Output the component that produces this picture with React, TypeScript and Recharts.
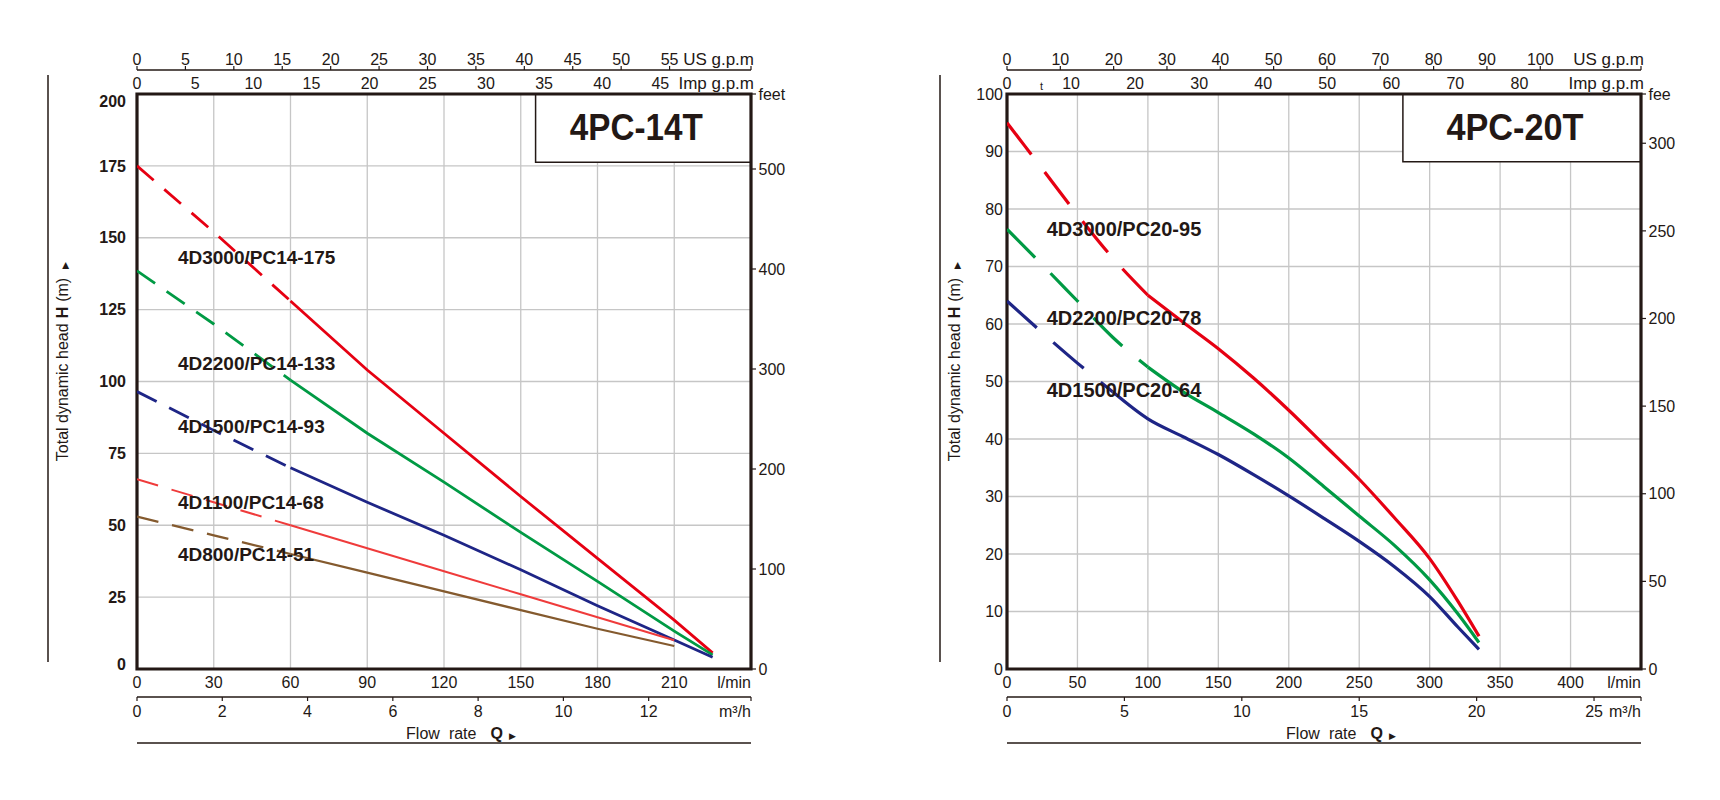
import React from "react";
import {
  LineChart,
  Line,
  XAxis,
  YAxis,
  CartesianGrid,
  ReferenceArea,
  ReferenceDot,
} from "recharts";

const INK = "#231815";
const GRID = "#c6c6c6";
const FONT = "'Liberation Sans', Arial, Helvetica, sans-serif";
const RED = "#e60012";
const GREEN = "#009a44";
const BLUE = "#1e2586";
const LIGHT_RED = "#ef3b3b";
const BROWN = "#845a2e";

// 4PC-14T : flow in l/min, head in m
const flow14 = [0, 30, 60, 90, 120, 150, 180, 210, 225];
const flow14Short = [0, 30, 60, 90, 120, 150, 180, 210];
const head14_175 = [175, 152, 128, 104, 82, 60, 38.5, 17, 5.6];
const head14_133 = [138.5, 120, 100.5, 82, 65, 47.5, 30.5, 13.2, 4.9];
const head14_93 = [96.5, 83, 70, 58, 46.5, 34.5, 22, 10.1, 4.1];
const head14_68 = [66, 58, 50, 42, 34, 26, 18, 10];
const head14_51 = [53, 46.5, 40, 33.5, 27, 20.5, 14, 8];
const models14 = [
  "4D3000/PC14-175",
  "4D2200/PC14-133",
  "4D1500/PC14-93",
  "4D1100/PC14-68",
  "4D800/PC14-51",
];
const lminTicks14 = [0, 30, 60, 90, 120, 150, 180, 210];
const m3hTicks14 = [0, 2, 4, 6, 8, 10, 12];
const usTicks14 = [0, 5, 10, 15, 20, 25, 30, 35, 40, 45, 50, 55];
const impTicks14 = [0, 5, 10, 15, 20, 25, 30, 35, 40, 45];
const headTicks14 = [0, 25, 50, 75, 100, 125, 150, 175, 200];
const feetTicks14 = [0, 100, 200, 300, 400, 500];

// 4PC-20T
const flow20 = [0, 25, 50, 75, 100, 125, 150, 175, 200, 225, 250, 275, 300, 320, 335];
const head20_95 = [95, 87, 79, 71.5, 65, 60.3, 55.7, 50.6, 45, 39, 33, 26.3, 19.2, 11.8, 5.7];
const head20_78 = [76.5, 70.3, 64, 57.7, 52.5, 48.2, 44.6, 40.9, 36.7, 31.7, 26.6, 21.5, 15.5, 9.6, 4.6];
const head20_64 = [64, 58.5, 53.2, 48.2, 43.5, 40.4, 37.3, 33.8, 30.1, 26.2, 22.2, 17.8, 12.6, 7.3, 3.4];
const models20 = ["4D3000/PC20-95", "4D2200/PC20-78", "4D1500/PC20-64"];
const lminTicks20 = [0, 50, 100, 150, 200, 250, 300, 350, 400];
const m3hTicks20 = [0, 5, 10, 15, 20, 25];
const usTicks20 = [0, 10, 20, 30, 40, 50, 60, 70, 80, 90, 100];
const impTicks20 = [0, 10, 20, 30, 40, 50, 60, 70, 80];
const headTicks20 = [0, 10, 20, 30, 40, 50, 60, 70, 80, 90, 100];
const feetTicks20 = [0, 50, 100, 150, 200, 250, 300];

type Pt = { q: number; h: number };
const toPoints = (flow: number[], head: number[]): Pt[] =>
  flow.map((q, i) => ({ q, h: head[i] }));

type Curve = {
  name: string;
  flow: number[];
  head: number[];
  dashTo: number;
  color: string;
  width: number;
  label: [number, number];
};

const curves14: Curve[] = [
  { name: models14[0], flow: flow14, head: head14_175, dashTo: 60, color: RED, width: 2.8, label: [16, 143.4] },
  { name: models14[1], flow: flow14, head: head14_133, dashTo: 60, color: GREEN, width: 2.8, label: [16, 106.3] },
  { name: models14[2], flow: flow14, head: head14_93, dashTo: 60, color: BLUE, width: 2.8, label: [16, 84.3] },
  { name: models14[3], flow: flow14Short, head: head14_68, dashTo: 60, color: LIGHT_RED, width: 2, label: [16, 58.2] },
  { name: models14[4], flow: flow14Short, head: head14_51, dashTo: 60, color: BROWN, width: 2.3, label: [16, 40] },
];

const curves20: Curve[] = [
  { name: models20[0], flow: flow20, head: head20_95, dashTo: 100, color: RED, width: 3.2, label: [28.2, 76.5] },
  { name: models20[1], flow: flow20, head: head20_78, dashTo: 100, color: GREEN, width: 3.2, label: [28.2, 61] },
  { name: models20[2], flow: flow20, head: head20_64, dashTo: 75, color: BLUE, width: 3.2, label: [28.2, 48.5] },
];

const txt = { fontFamily: FONT, fill: INK };

const HeadTitle = ({ viewBox, lineX }: any) => {
  const { x, y, height } = viewBox;
  const lx = x + lineX;
  const cy = y + height / 2 - 20;
  return (
    <g>
      <line x1={lx} x2={lx} y1={y - 19} y2={y + height - 7} stroke={INK} strokeWidth={1.5} />
      <text transform={`translate(${lx + 20}, ${cy}) rotate(-90)`} textAnchor="middle" fontSize={16} {...txt}>
        <tspan>Total dynamic head</tspan>
        <tspan dx={5} fontWeight="bold">H</tspan>
        <tspan dx={5}>(m)</tspan>
        <tspan dx={9} fontSize={9}>▶</tspan>
      </text>
    </g>
  );
};

const FlowTitle = ({ viewBox }: any) => {
  const { x, y, width } = viewBox;
  return (
    <g>
      <text x={x + width / 2 + 17} y={y + 41.5} textAnchor="middle" fontSize={16} {...txt}>
        <tspan>Flow</tspan>
        <tspan dx={9}>rate</tspan>
        <tspan dx={14} fontWeight="bold">Q</tspan>
        <tspan dx={6} fontSize={9}>▶</tspan>
      </text>
      <line x1={x} x2={x + width} y1={y + 46} y2={y + 46} stroke={INK} strokeWidth={1.5} />
    </g>
  );
};

const BoxTitle = ({ viewBox, text, length }: any) => (
  <text
    x={viewBox.x + viewBox.width / 2 - 7}
    y={viewBox.y + 46}
    textAnchor="middle"
    fontSize={36}
    fontWeight="bold"
    textLength={length}
    lengthAdjust="spacingAndGlyphs"
    {...txt}
  >
    {text}
  </text>
);

const ModelLabel = ({ viewBox, text, size }: any) => (
  <text x={viewBox.x} y={viewBox.y + size * 0.36} fontSize={size} fontWeight="bold" {...txt}>
    {text}
  </text>
);

const StrayMark = ({ viewBox }: any) => (
  <text x={viewBox.x + 33} y={viewBox.y + 20} fontSize={11} {...txt}>
    t
  </text>
);

type ChartProps = {
  title: string;
  titleLength: number;
  curves: Curve[];
  curveType: "linear" | "monotone";
  dash: string;
  labelSize: number;
  qMax: number;
  qTicks: number[];
  hMax: number;
  hTicks: number[];
  ftMax: number;
  ftTicks: number[];
  usTicks: number[];
  impTicks: number[];
  m3Ticks: number[];
  box: [number, number];
  yWidth: number;
  lineX: number;
  boldY: boolean;
  marginRight: number;
  feetUnit: string;
  stray?: boolean;
};

function PumpChart(p: ChartProps) {
  const usMax = p.qMax / 3.785;
  const impMax = p.qMax / 4.546;
  const m3Max = (p.qMax * 60) / 1000;
  // chart-level data so that the secondary unit axes get a scale too
  const allPoints = p.curves.flatMap((c) => toPoints(c.flow, c.head));

  const qTick = (t: any) => {
    const last = t.payload.value === p.qMax;
    return (
      <text x={t.x} y={t.y + 18.5} textAnchor={last ? "end" : "middle"} fontSize={16} {...txt}>
        {last ? "l/min" : t.payload.value}
      </text>
    );
  };
  const m3Tick = (t: any) => {
    const last = t.payload.value === m3Max;
    return (
      <text x={t.x} y={t.y + 16} textAnchor={last ? "end" : "middle"} fontSize={16} {...txt}>
        {last ? "m³/h" : t.payload.value}
      </text>
    );
  };
  const topTick = (max: number, unit: string, dy: number) => (t: any) => {
    const last = t.payload.value === max;
    return (
      <text
        x={last ? t.x + 3 : t.x}
        y={t.y + dy}
        textAnchor={last ? "end" : "middle"}
        fontSize={last ? 17 : 16}
        {...txt}
      >
        {last ? unit : t.payload.value}
      </text>
    );
  };
  const hTick = (t: any) => {
    const v = t.payload.value;
    const shift = p.boldY ? (v === p.hMax ? 7 : v === 0 ? -5 : 0) : 0;
    return (
      <text
        x={t.x - (p.boldY ? 11 : 4)}
        y={t.y + 5.7 + shift}
        textAnchor="end"
        fontSize={16}
        fontWeight={p.boldY ? "bold" : "normal"}
        {...txt}
      >
        {v}
      </text>
    );
  };
  const ftTick = (t: any) => {
    const last = t.payload.value === p.ftMax;
    return (
      <text x={t.x + 2.5} y={t.y + 5.7} textAnchor="start" fontSize={16} {...txt}>
        {last ? p.feetUnit : t.payload.value}
      </text>
    );
  };

  const inkLine = { stroke: INK, strokeWidth: 1.5 };
  const inkTick = { stroke: INK, strokeWidth: 1.2 };

  return (
    <LineChart
      width={860}
      height={800}
      data={allPoints}
      margin={{ top: 46, right: p.marginRight, bottom: 43, left: 0 }}
    >
      <CartesianGrid stroke={GRID} strokeWidth={1.3} />
      <XAxis
        type="number"
        dataKey="q"
        domain={[0, p.qMax]}
        allowDataOverflow
        ticks={[...p.qTicks, p.qMax]}
        interval={0}
        height={28}
        axisLine={false}
        tickLine={false}
        tickSize={0}
        tickMargin={0}
        tick={qTick}
      />
      <XAxis
        xAxisId="m3h"
        orientation="bottom"
        type="number"
        dataKey="q"
        domain={[0, m3Max]}
        allowDataOverflow
        ticks={[...p.m3Ticks, m3Max]}
        interval={0}
        height={60}
        axisLine={inkLine}
        tickLine={inkTick}
        tickSize={4}
        tickMargin={0}
        tick={m3Tick}
        label={<FlowTitle />}
      />
      <XAxis
        xAxisId="imp"
        orientation="top"
        type="number"
        dataKey="q"
        domain={[0, impMax]}
        allowDataOverflow
        ticks={[...p.impTicks, impMax]}
        interval={0}
        height={24}
        axisLine={false}
        tickLine={false}
        tickSize={0}
        tickMargin={0}
        tick={topTick(impMax, "Imp g.p.m", -5.4)}
        label={p.stray ? <StrayMark /> : undefined}
      />
      <XAxis
        xAxisId="us"
        orientation="top"
        type="number"
        dataKey="q"
        domain={[0, usMax]}
        allowDataOverflow
        ticks={[...p.usTicks, usMax]}
        interval={0}
        height={24}
        axisLine={inkLine}
        tickLine={inkTick}
        tickSize={4}
        tickMargin={0}
        tick={topTick(usMax, "US g.p.m", -1.3)}
      />
      <YAxis
        type="number"
        domain={[0, p.hMax]}
        allowDataOverflow
        ticks={p.hTicks}
        interval={0}
        width={p.yWidth}
        axisLine={false}
        tickLine={false}
        tickSize={0}
        tickMargin={0}
        tick={hTick}
        label={<HeadTitle lineX={p.lineX} />}
      />
      <YAxis
        yAxisId="ft"
        orientation="right"
        type="number"
        dataKey="h"
        domain={[0, p.ftMax]}
        allowDataOverflow
        ticks={[...p.ftTicks, p.ftMax]}
        interval={0}
        width={60}
        axisLine={false}
        tickLine={inkTick}
        tickSize={5}
        tickMargin={0}
        tick={ftTick}
      />
      {p.curves.flatMap((c) => {
        const pts = toPoints(c.flow, c.head);
        return [
          <Line
            key={c.name + "-dash"}
            data={pts.filter((pt) => pt.q <= c.dashTo)}
            dataKey="h"
            type={p.curveType}
            stroke={c.color}
            strokeWidth={c.width}
            strokeDasharray={p.dash}
            dot={false}
            activeDot={false}
            isAnimationActive={false}
          />,
          <Line
            key={c.name + "-solid"}
            data={pts.filter((pt) => pt.q >= c.dashTo)}
            dataKey="h"
            type={p.curveType}
            stroke={c.color}
            strokeWidth={c.width}
            dot={false}
            activeDot={false}
            isAnimationActive={false}
          />,
        ];
      })}
      <ReferenceArea
        x1={p.box[0]}
        x2={p.qMax}
        y1={p.box[1]}
        y2={p.hMax}
        fill="#ffffff"
        fillOpacity={1}
        stroke={INK}
        strokeWidth={1.5}
        label={<BoxTitle text={p.title} length={p.titleLength} />}
      />
      <ReferenceArea
        x1={0}
        x2={p.qMax}
        y1={0}
        y2={p.hMax}
        fill="none"
        stroke={INK}
        strokeWidth={3.2}
      />
      {p.curves.map((c) => (
        <ReferenceDot
          key={c.name + "-label"}
          x={c.label[0]}
          y={c.label[1]}
          r={0}
          stroke="none"
          fill="none"
          label={<ModelLabel text={c.name} size={p.labelSize} />}
        />
      ))}
    </LineChart>
  );
}

export default function App() {
  return (
    <div style={{ position: "absolute", left: 0, top: 0, width: 1720, height: 800, background: "#fff" }}>
      <div style={{ position: "absolute", left: 0, top: 0 }}>
        <PumpChart
          title="4PC-14T"
          titleLength={133}
          curves={curves14}
          curveType="linear"
          dash="22 14"
          labelSize={19}
          qMax={240}
          qTicks={lminTicks14}
          hMax={200}
          hTicks={headTicks14}
          ftMax={575}
          ftTicks={feetTicks14}
          usTicks={usTicks14}
          impTicks={impTicks14}
          m3Ticks={m3hTicks14}
          box={[155.8, 176.3]}
          yWidth={137}
          lineX={48}
          boldY
          marginRight={49}
          feetUnit="feet"
        />
      </div>
      <div style={{ position: "absolute", left: 860, top: 0 }}>
        <PumpChart
          title="4PC-20T"
          titleLength={137}
          curves={curves20}
          curveType="monotone"
          dash="40 22"
          labelSize={20}
          qMax={450}
          qTicks={lminTicks20}
          hMax={100}
          hTicks={headTicks20}
          ftMax={328.1}
          ftTicks={feetTicks20}
          usTicks={usTicks20}
          impTicks={impTicks20}
          m3Ticks={m3hTicks20}
          box={[281, 88.2]}
          yWidth={147}
          lineX={80}
          boldY={false}
          marginRight={19}
          feetUnit="fee"
          stray
        />
      </div>
    </div>
  );
}
